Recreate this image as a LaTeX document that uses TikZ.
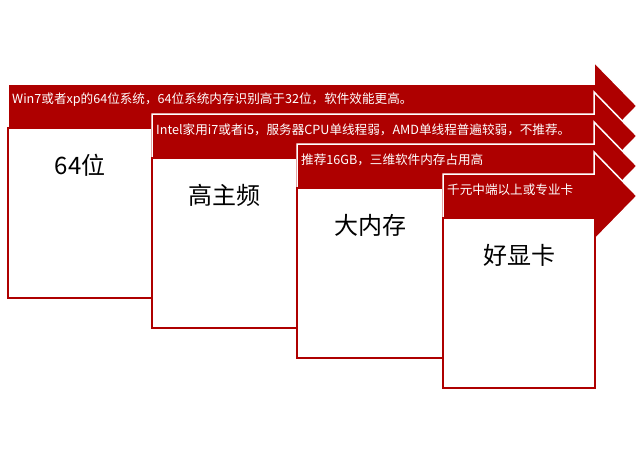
\documentclass[tikz,border=0pt]{standalone}
\usepackage{fontspec}
\setmainfont{Noto Sans CJK SC}
\definecolor{dr}{HTML}{AE0000}
\begin{document}
\begin{tikzpicture}[x=1pt,y=-1pt,
 arr/.style={fill=dr,draw=white,line width=1.5pt,line join=miter},
 box/.style={fill=white,draw=dr,line width=1.2pt},
 small/.style={text=white,font=\fontsize{12.6}{14}\selectfont,anchor=west,inner sep=0pt},
 big/.style={font=\fontsize{24}{28}\selectfont,inner sep=0pt}]
\useasboundingbox (0,0) rectangle (640,451);
\foreach \i/\x/\t/\bx/\w in {0/8/{Win7或者xp的64位系统，64位系统内存识别高于32位，软件效能更高。}/152/64位,
 1/152/{Intel家用i7或者i5，服务器CPU单线程弱，AMD单线程普遍较弱，不推荐。}/297/高主频,
 2/297/{推荐16GB，三维软件内存占用高}/443/大内存,
 3/443/{千元中端以上或专业卡}/595/好显卡}{
 \pgfmathsetmacro\y{84+30*\i}
 \draw[arr] (\x,\y) -- (594,\y) -- (594,\y-22) -- (637,\y+22) -- (594,\y+66) -- (594,\y+44) -- (\x,\y+44) -- cycle;
 \node[small] (t\i) at (\x+4,\y+16) {\t};
 \draw[box] (\x,\y+44) rectangle (\bx,\y+214);
 \node[big] (b\i) at ({(\x+\bx)/2},\y+81) {\w};
}
\end{tikzpicture}
\end{document}
